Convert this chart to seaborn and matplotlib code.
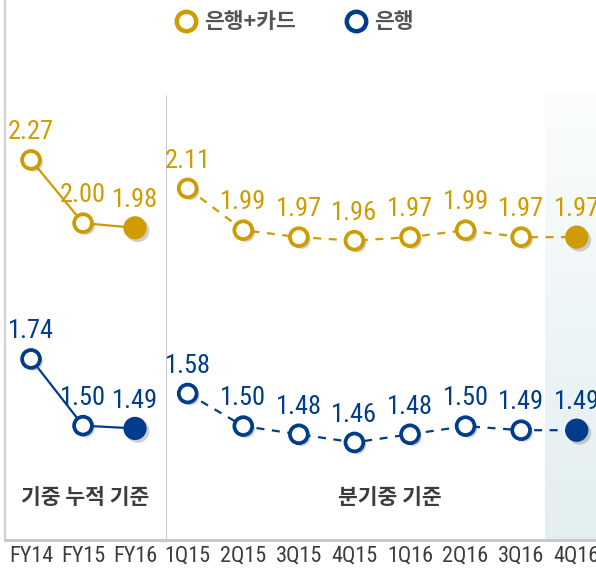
import matplotlib
matplotlib.use("Agg")
import numpy as np
import pandas as pd
import matplotlib.pyplot as plt
import matplotlib.patheffects as pe
import seaborn as sns
from matplotlib.lines import Line2D
from matplotlib.colors import LinearSegmentedColormap
from matplotlib import font_manager

# Data
periods_cum = ["FY14", "FY15", "FY16"]
periods_q = ["1Q15", "2Q15", "3Q15", "4Q15", "1Q16", "2Q16", "3Q16", "4Q16"]
card_cum = [2.27, 2.00, 1.98]
bank_cum = [1.74, 1.50, 1.49]
card_q = [2.11, 1.99, 1.97, 1.96, 1.97, 1.99, 1.97, 1.97]
bank_q = [1.58, 1.50, 1.48, 1.46, 1.48, 1.50, 1.49, 1.49]
series_names = ["은행+카드", "은행"]
group_titles = ["기중 누적 기준", "분기중 기준"]

GOLD = "#CF9C00"
BLUE = "#003C8C"
TEXT = "#3c3c3c"

# Style
sns.set_style("white")
plt.rcParams["font.family"] = ["Noto Sans CJK KR", "DejaVu Sans"]


def narrow_font_file():
    # pick a condensed face for the numbers if one is installed
    fonts = [f for f in font_manager.fontManager.ttflist
             if f.style == "normal" and f.weight in (400, "normal", "regular", "book")]
    for key in ("Liberation Sans Narrow", "Roboto Condensed", "Open Sans Condensed"):
        for f in fonts:
            if f.name == key:
                return f.fname
    for f in fonts:
        if f.stretch in ("condensed", "semi-condensed", "extra-condensed") or \
                "Condensed" in f.name or "Narrow" in f.name or "Condensed" in f.fname:
            return f.fname
    return None


NUM_FILE = narrow_font_file()


def num_font(size):
    if NUM_FILE:
        return font_manager.FontProperties(fname=NUM_FILE, size=size)
    return font_manager.FontProperties(family="DejaVu Sans", stretch="condensed", size=size)


W, H = 596, 569
fig = plt.figure(figsize=(W / 100, H / 100), dpi=100)

ax_l = fig.add_axes([4.5 / W, 29 / H, 161.2 / W, 540 / H])
ax_r = fig.add_axes([165.7 / W, 29 / H, 430.3 / W, 540 / H])


def draw_group(ax, labels, card, bank, xlim, ylims, dashed):
    ax2 = ax.twinx()
    df = pd.DataFrame({"pos": range(len(labels)), "card": card, "bank": bank})

    for a, col, color, ylim in [(ax, "card", GOLD, ylims[0]), (ax2, "bank", BLUE, ylims[1])]:
        sns.lineplot(data=df, x="pos", y=col, ax=a, color=color, lw=1.6, zorder=2)
        if dashed:
            a.lines[-1].set_dashes((3.6, 3.4))

        shadow = [pe.SimplePatchShadow(offset=(2, -2), shadow_rgbFace="#777777", alpha=0.35),
                  pe.Normal()]
        sns.scatterplot(data=df.iloc[:-1], x="pos", y=col, ax=a, s=165,
                        color="white", edgecolor=color, linewidth=2.7, zorder=3)
        a.collections[-1].set_path_effects(shadow)
        sns.scatterplot(data=df.iloc[-1:], x="pos", y=col, ax=a, s=280,
                        color=color, edgecolor=color, linewidth=0, zorder=3)
        a.collections[-1].set_path_effects(shadow)

        for i, v in enumerate(df[col]):
            a.annotate(f"{v:.2f}", (i, v), xytext=(0, 20), textcoords="offset points",
                       ha="center", va="center", color=color,
                       fontproperties=num_font(19))

        a.set_ylim(*ylim)
        a.set_xlim(*xlim)
        a.set_ylabel("")
        a.set_xlabel("")
        a.set_yticks([])

    for s in ax2.spines.values():
        s.set_visible(False)

    ax.set_xticks(range(len(labels)), labels, fontproperties=num_font(16), color=TEXT)
    ax.tick_params(axis="x", length=0, pad=4)
    return ax2


draw_group(ax_l, periods_cum, card_cum, bank_cum, (-0.51, 2.59),
           [(0.6466, 2.953), (1.0885, 3.0317)], dashed=False)
draw_group(ax_r, periods_q, card_q, bank_q, (-0.396, 7.347),
           [(1.1007, 2.6507), (1.2207, 2.5452)], dashed=True)

# highlight band behind the latest quarter
grad = np.linspace(0, 1, 256).reshape(-1, 1)
shade = LinearSegmentedColormap.from_list("shade", ["#fbfdfd", "#e2eef0"])
ax_r.imshow(grad, extent=(6.43, 7.347, 0, (540 - 92) / 540), origin="upper",
            transform=ax_r.get_xaxis_transform(), aspect="auto", cmap=shade, zorder=0)
ax_r.set_xlim(-0.396, 7.347)
ax_r.set_ylim(1.1007, 2.6507)

# frame lines
for ax in (ax_l, ax_r):
    ax.spines["top"].set_visible(False)
    ax.spines["right"].set_visible(False)
    ax.spines["bottom"].set_color("#c8c8c8")
    ax.spines["bottom"].set_linewidth(2.2)
ax_l.spines["left"].set_color("#d2d2d2")
ax_l.spines["left"].set_linewidth(1.6)
ax_r.spines["left"].set_visible(False)
ax_r.axvline(-0.396, ymin=0, ymax=(540 - 96) / 540, color="#c8c8c8", lw=1.4)

# group titles
ax_l.text(0.5, 0.078, group_titles[0], transform=ax_l.transAxes, ha="center",
          va="center", fontsize=15.5, fontweight="bold", color=TEXT)
ax_r.text(0.52, 0.078, group_titles[1], transform=ax_r.transAxes, ha="center",
          va="center", fontsize=15.5, fontweight="bold", color=TEXT)

# legend
handles = [Line2D([], [], ls="none", marker="o", ms=14, mfc="white", mec=c, mew=3.2)
           for c in (GOLD, BLUE)]
fig.legend(handles, series_names, loc="center", bbox_to_anchor=(0.494, 1 - 22 / H),
           ncol=2, frameon=False, handlelength=1.0, handletextpad=0.35,
           columnspacing=2.3, prop={"size": 15.5, "weight": "bold"}, labelcolor="#555555")

fig.savefig("out.png", dpi=100)
